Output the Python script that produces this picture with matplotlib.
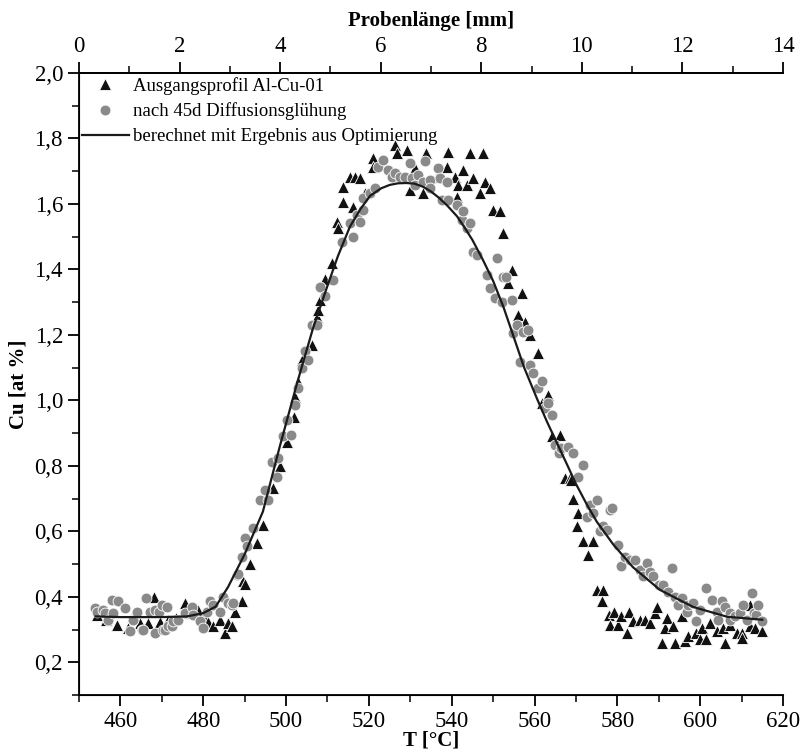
import numpy as np
import matplotlib
matplotlib.use("Agg")
import matplotlib.pyplot as plt
from matplotlib.ticker import MultipleLocator, FuncFormatter

# ------------------ DATA ------------------
# Ausgangsprofil Al-Cu-01 (triangles)
tri_T = [454.3, 456.5, 459.1, 461.9, 463.0, 464.7, 466.7, 468.2, 469.6, 471.5, 473.5,
         475.6, 477.0, 478.8, 480.2, 481.2, 482.4, 484.0, 485.3, 486.1, 486.9, 487.7,
         489.3, 489.7, 490.1, 491.3, 492.9, 494.5, 496.9, 498.5, 500.2, 501.8, 502.2,
         503.0, 503.8, 506.2, 507.4, 507.8, 508.2, 509.5, 511.0, 512.2, 512.6, 513.8,
         513.8, 515.4, 516.2, 516.6, 517.8, 519.0, 521.1, 521.1, 526.3, 526.7, 529.1,
         529.9, 531.1, 533.1, 533.9, 536.4, 538.8, 539.2, 540.8, 541.2, 541.6, 542.8,
         543.6, 544.4, 545.2, 546.8, 547.6, 548.0, 549.2, 550.0, 551.7, 552.5, 553.7,
         554.5, 556.1, 556.9, 557.7, 558.9, 560.9, 561.7, 563.3, 564.1, 566.1, 567.3,
         568.6, 568.9, 569.4, 570.2, 570.6, 571.8, 573.0, 574.2, 575.0, 576.2, 576.6,
         577.9, 578.2, 579.1, 580.2, 581.0, 582.3, 582.7, 583.8, 585.5, 586.7, 587.9,
         589.1, 589.5, 590.7, 591.5, 591.9, 593.5, 593.9, 595.5, 596.3, 597.1, 599.1,
         600.0, 600.4, 601.5, 602.4, 604.0, 605.6, 606.0, 607.2, 608.8, 610.0, 610.0,
         612.0, 612.0, 613.3, 614.9]
tri_Cu = [0.345, 0.33, 0.314, 0.305, 0.34, 0.321, 0.321, 0.40, 0.324, 0.33, 0.335,
          0.382, 0.35, 0.36, 0.34, 0.324, 0.31, 0.33, 0.29, 0.32, 0.31, 0.355,
          0.386, 0.447, 0.44, 0.50, 0.565, 0.62, 0.733, 0.80, 0.873, 0.95, 1.01,
          1.057, 1.124, 1.17, 1.255, 1.276, 1.307, 1.37, 1.42, 1.546, 1.526, 1.607,
          1.653, 1.683, 1.592, 1.683, 1.68, 1.634, 1.74, 1.714, 1.78, 1.755, 1.765,
          1.643, 1.71, 1.634, 1.755, 1.683, 1.714, 1.76, 1.683, 1.622, 1.658, 1.704,
          1.658, 1.755, 1.68, 1.634, 1.755, 1.668, 1.649, 1.582, 1.577, 1.511, 1.358,
          1.398, 1.26, 1.328, 1.24, 1.20, 1.145, 0.992, 1.017, 0.89, 0.895, 0.763,
          0.763, 0.757, 0.70, 0.615, 0.656, 0.569, 0.528, 0.569, 0.421, 0.386, 0.421,
          0.345, 0.315, 0.355, 0.315, 0.34, 0.29, 0.355, 0.325, 0.33, 0.33, 0.32,
          0.35, 0.37, 0.26, 0.305, 0.335, 0.31, 0.26, 0.34, 0.264, 0.279, 0.29,
          0.27, 0.305, 0.27, 0.32, 0.294, 0.305, 0.26, 0.315, 0.29, 0.29, 0.275,
          0.31, 0.376, 0.305, 0.294]

# nach 45d Diffusionsglühung (circles)
circ_T = [453.9, 454.3, 455.9, 456.3, 457.1, 457.9, 458.3, 459.5, 461.1, 462.3, 463.1,
          463.9, 465.1, 465.5, 466.2, 467.1, 468.4, 468.4, 469.2, 470.0, 470.4, 470.8,
          471.2, 471.6, 472.4, 472.8, 474.0, 475.6, 477.2, 477.6, 479.2, 480.0, 480.8,
          481.6, 482.4, 484.0, 484.8, 486.1, 486.9, 487.3, 488.1, 488.5, 489.3, 490.1,
          490.5, 492.1, 493.7, 494.9, 495.7, 496.5, 497.7, 498.1, 499.3, 500.2, 501.3,
          502.2, 503.0, 503.8, 504.6, 505.4, 506.2, 507.4, 508.2, 509.4, 511.4, 513.4,
          515.4, 516.2, 517.1, 517.8, 518.7, 518.7, 520.3, 521.5, 522.2, 523.4, 524.7,
          525.5, 526.3, 527.5, 528.7, 529.9, 530.3, 531.1, 531.9, 533.1, 533.5, 534.8,
          534.8, 536.8, 537.2, 537.6, 538.8, 539.2, 541.2, 542.4, 542.8, 543.6, 544.4,
          545.2, 546.0, 548.5, 549.2, 550.5, 550.9, 552.1, 552.5, 553.1, 554.5, 554.9,
          555.7, 556.5, 557.3, 558.5, 558.9, 559.7, 560.9, 561.7, 562.5, 563.3, 564.1,
          564.9, 565.8, 566.5, 568.2, 569.4, 570.6, 571.8, 572.6, 573.4, 574.2, 575.0,
          575.8, 576.6, 577.4, 578.2, 578.6, 580.2, 581.0, 581.8, 583.0, 584.3, 585.5,
          586.3, 587.1, 587.9, 588.7, 590.0, 591.1, 592.3, 593.1, 594.0, 594.7, 595.5,
          596.7, 597.1, 598.3, 599.1, 600.0, 601.5, 602.8, 604.0, 604.4, 605.2, 606.0,
          607.2, 607.2, 608.4, 609.6, 610.4, 611.2, 612.4, 613.0, 613.6, 614.0, 614.9]
circ_Cu = [0.366, 0.355, 0.36, 0.35, 0.33, 0.39, 0.35, 0.386, 0.366, 0.294, 0.33,
           0.355, 0.30, 0.30, 0.397, 0.355, 0.29, 0.36, 0.355, 0.375, 0.30, 0.30,
           0.37, 0.31, 0.31, 0.325, 0.33, 0.35, 0.37, 0.345, 0.325, 0.305, 0.355,
           0.386, 0.375, 0.355, 0.40, 0.38, 0.375, 0.38, 0.467, 0.47, 0.523, 0.58,
           0.554, 0.61, 0.696, 0.727, 0.696, 0.813, 0.767, 0.823, 0.89, 0.94, 0.895,
           0.986, 1.038, 1.10, 1.15, 1.124, 1.23, 1.23, 1.347, 1.32, 1.368, 1.485,
           1.541, 1.50, 1.566, 1.546, 1.582, 1.617, 1.633, 1.648, 1.714, 1.735, 1.704,
           1.683, 1.694, 1.683, 1.683, 1.724, 1.678, 1.658, 1.689, 1.668, 1.73, 1.673,
           1.648, 1.709, 1.678, 1.612, 1.668, 1.612, 1.597, 1.551, 1.577, 1.526, 1.541,
           1.454, 1.444, 1.383, 1.343, 1.312, 1.434, 1.302, 1.378, 1.378, 1.307, 1.205,
           1.23, 1.118, 1.21, 1.215, 1.108, 1.083, 1.037, 1.058, 0.976, 0.991, 0.956,
           0.864, 0.839, 0.854, 0.859, 0.839, 0.767, 0.803, 0.645, 0.681, 0.655, 0.696,
           0.60, 0.615, 0.605, 0.666, 0.671, 0.559, 0.493, 0.523, 0.513, 0.513, 0.482,
           0.462, 0.503, 0.477, 0.462, 0.437, 0.437, 0.416, 0.488, 0.40, 0.375, 0.396,
           0.355, 0.375, 0.38, 0.325, 0.36, 0.427, 0.39, 0.355, 0.33, 0.386, 0.37,
           0.35, 0.33, 0.34, 0.35, 0.376, 0.33, 0.411, 0.35, 0.345, 0.376, 0.325]

# berechnet mit Ergebnis aus Optimierung (line)
fit_T = [454, 460, 470, 476, 480, 483, 486, 490, 494.4, 498.5, 502.6, 506.5, 510,
         512.5, 515.4, 518, 520.3, 523, 525, 527, 529, 531, 533, 535, 537, 539,
         541.3, 543, 545, 547.5, 550, 552.5, 554.8, 557.5, 560.6, 563, 565.4,
         568, 570, 572.5, 575, 579, 583.8, 590.3, 598.3, 606.5, 615]
fit_Cu = [0.34, 0.338, 0.338, 0.34, 0.35, 0.37, 0.43, 0.53, 0.66, 0.86, 1.05, 1.22,
          1.35, 1.44, 1.53, 1.585, 1.625, 1.648, 1.658, 1.663, 1.664, 1.662, 1.653,
          1.638, 1.618, 1.594, 1.562, 1.53, 1.49, 1.43, 1.365, 1.285, 1.20, 1.10,
          1.005, 0.935, 0.87, 0.80, 0.745, 0.685, 0.63, 0.56, 0.49, 0.421, 0.369,
          0.339, 0.33]

labels = ["Ausgangsprofil Al-Cu-01", "nach 45d Diffusionsglühung",
          "berechnet mit Ergebnis aus Optimierung"]
# ------------------------------------------------------------------

plt.rcParams["font.family"] = ["Liberation Serif", "DejaVu Serif"]

fig = plt.figure(figsize=(8.03, 7.53), dpi=100)
ax = fig.add_axes([79 / 803, 1 - 695 / 753, 704 / 803, 622 / 753])

ax.plot(tri_T, tri_Cu, ls="none", marker="^", ms=8, mfc="#111111", mec="white",
        mew=0.6, label=labels[0], zorder=2)
ax.plot(circ_T, circ_Cu, ls="none", marker="o", ms=7.8, mfc="#8a8a8a", mec="white",
        mew=0.6, label=labels[1], zorder=3)
ax.plot(fit_T, fit_Cu, color="#1a1a1a", lw=1.6, label=labels[2], zorder=4)

ax.set_xlim(450, 620)
ax.set_ylim(0.1, 2.0)
ax.xaxis.set_major_locator(MultipleLocator(20))
ax.xaxis.set_minor_locator(MultipleLocator(10))
ax.yaxis.set_major_locator(MultipleLocator(0.2))
ax.yaxis.set_minor_locator(MultipleLocator(0.1))
ax.yaxis.set_major_formatter(FuncFormatter(lambda v, p: f"{v:.1f}".replace(".", ",")))
ax.set_xticks([460, 480, 500, 520, 540, 560, 580, 600, 620])

for s in ["left", "bottom", "top"]:
    ax.spines[s].set_linewidth(1.3)
ax.spines["right"].set_visible(False)
ax.tick_params(which="major", length=8, width=1.3, labelsize=16.5, direction="out")
ax.tick_params(which="minor", length=5, width=1.1, direction="out")
ax.tick_params(axis="x", which="both", top=False)
ax.tick_params(axis="y", which="both", right=False)

ax.set_xlabel("T [°C]", fontsize=15, fontweight="bold", labelpad=-1)
ax.set_ylabel("Cu [at %]", fontsize=15, fontweight="bold", labelpad=4)

# top axis: Probenlänge
ax2 = ax.twiny()
ax2.set_xlim(0, 14)
ax2.xaxis.set_major_locator(MultipleLocator(2))
ax2.xaxis.set_minor_locator(MultipleLocator(1))
ax2.spines["right"].set_visible(False)
ax2.spines["top"].set_linewidth(1.3)
ax2.tick_params(which="major", length=8, width=1.3, labelsize=16.5, direction="out")
ax2.tick_params(which="minor", length=5, width=1.1, direction="out")
ax2.set_xlabel("Probenlänge [mm]", fontsize=15, fontweight="bold", labelpad=7)

leg = ax.legend(loc="upper left", bbox_to_anchor=(-0.012, 1.012), frameon=False,
                fontsize=13.5, handlelength=2.5, handletextpad=0.25,
                labelspacing=0.42, borderaxespad=0.2)

fig.savefig("out.png", dpi=100)
